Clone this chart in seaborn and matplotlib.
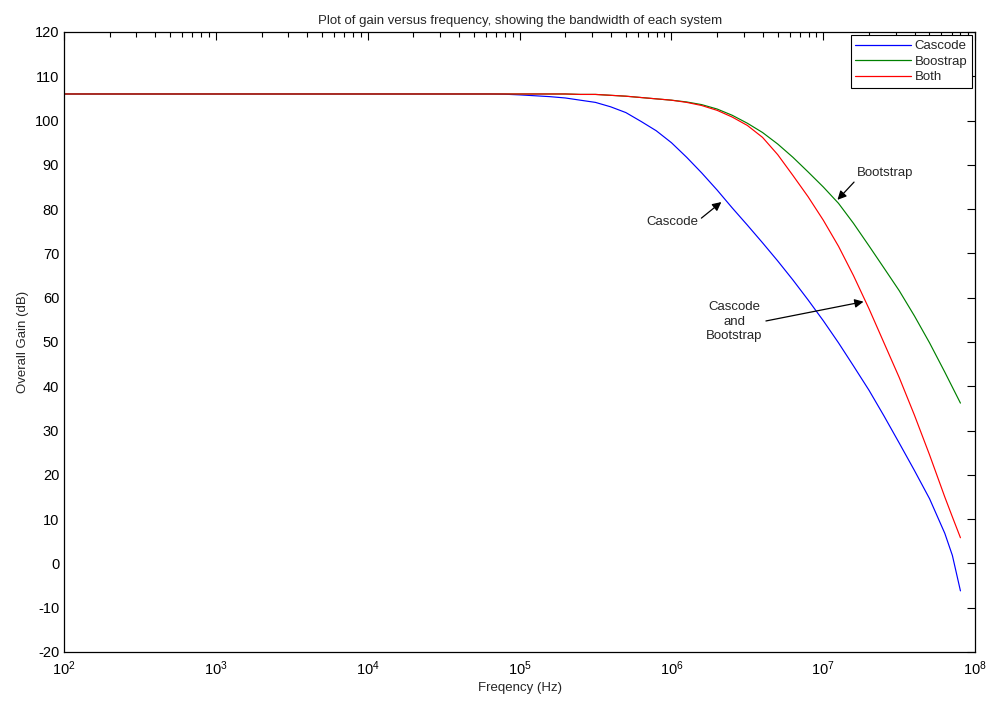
import matplotlib
matplotlib.use("Agg")
import matplotlib.pyplot as plt
import seaborn as sns
import pandas as pd
import numpy as np
from matplotlib.ticker import LogLocator, FixedLocator

# ---- data ----
freq_hz = [1e2, 1e3, 1e4, 3.16e4, 6.31e4, 7.94e4,
           1e5, 1.26e5, 1.58e5, 2e5, 2.51e5, 3.16e5, 3.98e5, 5.01e5, 6.31e5, 7.94e5,
           1e6, 1.26e6, 1.58e6, 2e6, 2.51e6, 3.16e6, 3.98e6, 5.01e6, 6.31e6, 7.94e6,
           1e7, 1.26e7, 1.58e7, 2e7, 2.51e7, 3.16e7, 3.98e7, 5.01e7, 6.31e7, 7.08e7,
           8e7]
cascode_db = [106, 106, 106, 106, 106, 105.95,
              105.8, 105.6, 105.4, 105.1, 104.6, 104.1, 103.1, 101.8, 99.8, 97.7,
              95.0, 91.7, 88.2, 84.3, 80.3, 76.4, 72.4, 68.3, 64.0, 59.5,
              54.8, 49.8, 44.6, 39.1, 33.3, 27.2, 21.0, 14.6, 6.8, 1.8,
              -6.2]
bootstrap_db = [106, 106, 106, 106, 106, 106,
                106, 106, 106, 106, 105.9, 105.9, 105.7, 105.5, 105.2, 104.9,
                104.6, 104.2, 103.6, 102.6, 101.2, 99.4, 97.3, 94.7, 91.7, 88.4,
                85.0, 81.3, 76.8, 71.7, 66.7, 61.6, 55.9, 49.8, 43.2, 39.8,
                36.2]
both_db = [106, 106, 106, 106, 106, 106,
           106, 106, 106, 106, 105.9, 105.9, 105.7, 105.5, 105.2, 104.9,
           104.6, 104.1, 103.4, 102.3, 100.8, 98.9, 96.2, 92.3, 87.6, 82.8,
           77.5, 71.6, 65.0, 57.5, 49.8, 42.0, 33.5, 24.5, 15.0, 10.5,
           5.8]
series_names = ["Cascode", "Boostrap", "Both"]
series_colors = ["#0000ff", "#008000", "#ff0000"]

x_ticks = [1e2, 1e3, 1e4, 1e5, 1e6, 1e7, 1e8]
y_ticks = list(range(-20, 121, 10))

df = pd.concat([
    pd.DataFrame({"freq": freq_hz, "gain": cascode_db, "system": "Cascode"}),
    pd.DataFrame({"freq": freq_hz, "gain": bootstrap_db, "system": "Boostrap"}),
    pd.DataFrame({"freq": freq_hz, "gain": both_db, "system": "Both"}),
])

sns.set_style("white")
plt.rcParams["font.family"] = ["Liberation Sans", "DejaVu Sans"]
plt.rcParams["mathtext.fontset"] = "custom"
plt.rcParams["mathtext.rm"] = "Liberation Sans"
plt.rcParams["mathtext.it"] = "Liberation Sans"
plt.rcParams["axes.unicode_minus"] = False

fig = plt.figure(figsize=(9.88, 7.06), dpi=100)
ax = fig.add_axes([0.0648, 0.0765, 0.9222, 0.8782])

sns.lineplot(data=df, x="freq", y="gain", hue="system", hue_order=series_names,
             palette=dict(zip(series_names, series_colors)), linewidth=0.85,
             sort=False, estimator=None, ax=ax)

ax.set_xscale("log")
ax.set_xlim(1e2, 1e8)
ax.set_ylim(-20, 120)
ax.yaxis.set_major_locator(FixedLocator(y_ticks))
ax.xaxis.set_major_locator(FixedLocator(x_ticks))
ax.xaxis.set_minor_locator(LogLocator(base=10, subs=np.arange(2, 10), numticks=20))

for s in ax.spines.values():
    s.set_visible(True)
    s.set_color("black")
    s.set_linewidth(0.9)

ax.tick_params(axis="both", which="both", direction="in", top=True, right=True,
               labelsize=10.5, colors="black")
ax.tick_params(axis="both", which="major", length=6, width=0.8)
ax.tick_params(axis="x", which="minor", length=3.5, width=0.8)
ax.tick_params(axis="y", which="minor", left=False, right=False)
ax.tick_params(axis="x", pad=5)

ax.set_title("Plot of gain versus frequency, showing the bandwidth of each system",
             fontsize=9.5, pad=6)
ax.set_xlabel("Freqency (Hz)", fontsize=9.5, labelpad=3)
ax.set_ylabel("Overall Gain (dB)", fontsize=9.5, labelpad=4)

leg = ax.legend(loc="upper right", fontsize=9.5, frameon=True, fancybox=False,
                edgecolor="black", framealpha=1, borderaxespad=0.25,
                handlelength=4.2, handletextpad=0.3, borderpad=0.35,
                labelspacing=0.25, title=None)
leg.get_frame().set_linewidth(0.8)
for h in leg.get_lines():
    h.set_linewidth(0.9)

arrow_kw = dict(arrowstyle="-|>", color="black", lw=0.9, mutation_scale=13,
                shrinkA=0, shrinkB=0)
ax.annotate("Bootstrap", xy=(1.24e7, 82.1), xytext=(2.56e7, 88.2),
            fontsize=9.5, ha="center", va="center",
            arrowprops=dict(arrow_kw, relpos=(0.0, 0.0)))
ax.annotate("Cascode", xy=(2.13e6, 81.6), xytext=(1.01e6, 77.1),
            fontsize=9.5, ha="center", va="center",
            arrowprops=dict(arrow_kw, relpos=(1.0, 0.6)))
ax.annotate("Cascode\nand\nBootstrap", xy=(1.84e7, 59.1), xytext=(2.6e6, 54.6),
            fontsize=9.5, ha="center", va="center", linespacing=1.25,
            arrowprops=dict(arrow_kw, relpos=(1.0, 0.5)))

fig.savefig("out.png", dpi=100)
